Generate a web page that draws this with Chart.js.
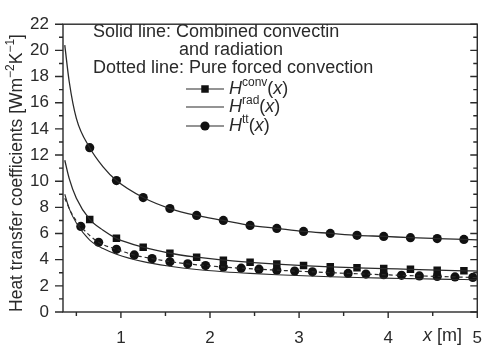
<!DOCTYPE html>
<html>
<head>
<meta charset="utf-8">
<script src="https://cdn.jsdelivr.net/npm/chart.js@4.4.0/dist/chart.umd.min.js"></script>
<style>
  html, body { margin: 0; padding: 0; background: #fff; }
</style>
</head>
<body>
<canvas id="chart" width="498" height="345"></canvas>
<script>
// values
const curveX = [0.37, 0.42, 0.5, 0.65, 0.8, 0.95, 1.25, 1.55, 1.85, 2.15, 2.45, 2.75, 3.05, 3.35, 3.65, 3.95, 4.25, 4.55, 4.85, 5.0];
const httCombined = [20.4, 17.6, 14.8, 12.56, 11.1, 10.05, 8.75, 7.91, 7.38, 7.0, 6.62, 6.39, 6.16, 6.01, 5.86, 5.78, 5.68, 5.61, 5.55, 5.52];
const hconvCombined = [11.6, 10.2, 8.7, 7.08, 6.25, 5.63, 4.95, 4.49, 4.19, 3.96, 3.8, 3.66, 3.55, 3.45, 3.38, 3.32, 3.26, 3.2, 3.15, 3.13];
const hradCombined = [9.0, 7.9, 6.8, 5.5, 4.85, 4.42, 3.85, 3.5, 3.25, 3.08, 2.95, 2.85, 2.77, 2.7, 2.64, 2.59, 2.55, 2.51, 2.48, 2.46];

const forcedX = [0.37, 0.45, 0.55, 0.75, 0.95, 1.15, 1.35, 1.55, 1.75, 1.95, 2.15, 2.35, 2.55, 2.75, 2.95, 3.15, 3.35, 3.55, 3.75, 3.95, 4.15, 4.35, 4.55, 4.75, 4.95, 5.0];
const forcedY = [8.7, 7.5, 6.54, 5.33, 4.79, 4.36, 4.08, 3.85, 3.68, 3.55, 3.44, 3.35, 3.27, 3.2, 3.13, 3.07, 3.01, 2.95, 2.9, 2.85, 2.8, 2.76, 2.72, 2.68, 2.64, 2.63];

const markerX = [0.65, 0.95, 1.25, 1.55, 1.85, 2.15, 2.45, 2.75, 3.05, 3.35, 3.65, 3.95, 4.25, 4.55, 4.85];
const circleMarkerX = [0.55, 0.75, 0.95, 1.15, 1.35, 1.55, 1.75, 1.95, 2.15, 2.35, 2.55, 2.75, 2.95, 3.15, 3.35, 3.55, 3.75, 3.95, 4.15, 4.35, 4.55, 4.75, 4.95];

const xMajor = [1, 2, 3, 4, 5];
const xMinor = [0.5, 1.5, 2.5, 3.5, 4.5];

const ink = "#2a2a2a";
const family = "'Liberation Sans', Arial, sans-serif";

function pts(xs, ys) {
  return xs.map((x, i) => ({ x: x, y: ys[i] }));
}
function pick(xs, ys, wanted) {
  return wanted.map(w => ({ x: w, y: ys[xs.indexOf(w)] }));
}

function line(data, width, dash) {
  return {
    data: data, showLine: true, pointRadius: 0,
    borderColor: ink, borderWidth: width, borderDash: dash || [],
    cubicInterpolationMode: "monotone",
  };
}
function marks(data, style, r) {
  return {
    data: data, showLine: false, pointStyle: style, pointRadius: r,
    backgroundColor: "#111", borderColor: "#111", borderWidth: 0,
  };
}

function drawSup(ctx, parts, x, y) {
  // parts: [text, isSup, italic]
  for (const [t, sup, it] of parts) {
    ctx.font = (it ? "italic " : "") + (sup ? "12px " : "18px ") + family;
    ctx.fillText(t, x, sup ? y - 6 : y);
    x += ctx.measureText(t).width;
  }
}

const decor = {
  id: "decor",
  afterDraw(chart) {
    const ctx = chart.ctx;
    const a = chart.chartArea;
    const xs = chart.scales.x, ys = chart.scales.y;
    ctx.save();
    ctx.strokeStyle = ink;
    ctx.fillStyle = ink;
    ctx.lineWidth = 1.4;
    ctx.strokeRect(a.left, a.top, a.right - a.left, a.bottom - a.top);

    ctx.beginPath();
    xMajor.concat(xMinor).forEach(v => {
      const px = xs.getPixelForValue(v);
      const len = Number.isInteger(v) ? 6 : 4;
      ctx.moveTo(px, a.bottom);
      ctx.lineTo(px, a.bottom + len);
    });
    for (let v = 0; v <= 22; v++) {
      const py = ys.getPixelForValue(v);
      const major = v % 2 === 0;
      ctx.moveTo(a.left - (major ? 8 : 4), py);
      ctx.lineTo(a.left, py);
      ctx.moveTo(a.right, py);
      ctx.lineTo(a.right - (major ? 7 : 4), py);
    }
    ctx.stroke();

    // axis titles
    ctx.textBaseline = "middle";
    ctx.textAlign = "left";
    const title = [["Heat transfer coefficients [Wm", false], ["\u22122", true], ["K", false], ["\u22121", true], ["]", false]];
    ctx.save();
    let total = 0;
    title.forEach(([t, sup]) => {
      ctx.font = (sup ? "12px " : "17.5px ") + family;
      total += ctx.measureText(t).width;
    });
    ctx.translate(17, 173);
    ctx.rotate(-Math.PI / 2);
    let tx = -total / 2;
    title.forEach(([t, sup]) => {
      ctx.font = (sup ? "12px " : "17.5px ") + family;
      ctx.fillText(t, tx, sup ? -6 : 0);
      tx += ctx.measureText(t).width;
    });
    ctx.restore();

    drawSup(ctx, [["x", false, true], [" [m]", false, false]], 423, 336);

    // legend block
    ctx.font = "18px " + family;
    ctx.fillText("Solid line: Combined convectin", 93, 32);
    ctx.fillText("and radiation", 179, 50);
    ctx.fillText("Dotted line: Pure forced convection", 93, 68);

    const rows = [[89, "rect", "conv"], [107, null, "rad"], [126, "circle", "tt"]];
    rows.forEach(([y, style, sup]) => {
      ctx.lineWidth = 1.2;
      ctx.beginPath();
      ctx.moveTo(186, y);
      ctx.lineTo(224, y);
      ctx.stroke();
      if (style) {
        ctx.fillStyle = "#111";
        Chart.helpers.drawPoint(ctx, { pointStyle: style, radius: style === "rect" ? 5.3 : 4.6, rotation: 0 }, 205, y);
        ctx.fillStyle = ink;
      }
      drawSup(ctx, [["H", false, true], [sup, true, false], ["(", false, false], ["x", false, true], [")", false, false]], 229, y);
    });
    ctx.restore();
  },
};

new Chart(document.getElementById("chart"), {
  type: "scatter",
  data: {
    datasets: [
      line(pts(curveX, httCombined), 1.3),
      line(pts(curveX, hconvCombined), 1.3),
      line(pts(curveX, hradCombined), 1.1),
      line(pts(forcedX, forcedY), 1.2, [4, 3]),
      marks(pick(curveX, httCombined, markerX), "circle", 4.6),
      marks(pick(curveX, hconvCombined, markerX), "rect", 5.3),
      marks(pick(forcedX, forcedY, circleMarkerX), "circle", 4.6),
    ],
  },
  options: {
    responsive: false,
    animation: false,
    layout: { padding: { top: 23, right: 4, left: 0, bottom: 0 } },
    plugins: { legend: { display: false }, tooltip: { enabled: false } },
    scales: {
      x: {
        type: "linear", min: 0.35, max: 5,
        afterFit: s => { s.height = 33; },
        afterBuildTicks: s => { s.ticks = xMajor.map(v => ({ value: v })); },
        grid: { display: false, drawTicks: false },
        border: { display: false },
        ticks: { font: { family: family, size: 17 }, color: ink, padding: 16, maxRotation: 0 },
      },
      y: {
        min: 0, max: 22,
        afterFit: s => { s.width = 63; },
        grid: { display: false, drawTicks: false },
        border: { display: false },
        ticks: { stepSize: 2, font: { family: family, size: 17 }, color: ink, padding: 14 },
      },
    },
  },
  plugins: [decor],
});
</script>
</body>
</html>
